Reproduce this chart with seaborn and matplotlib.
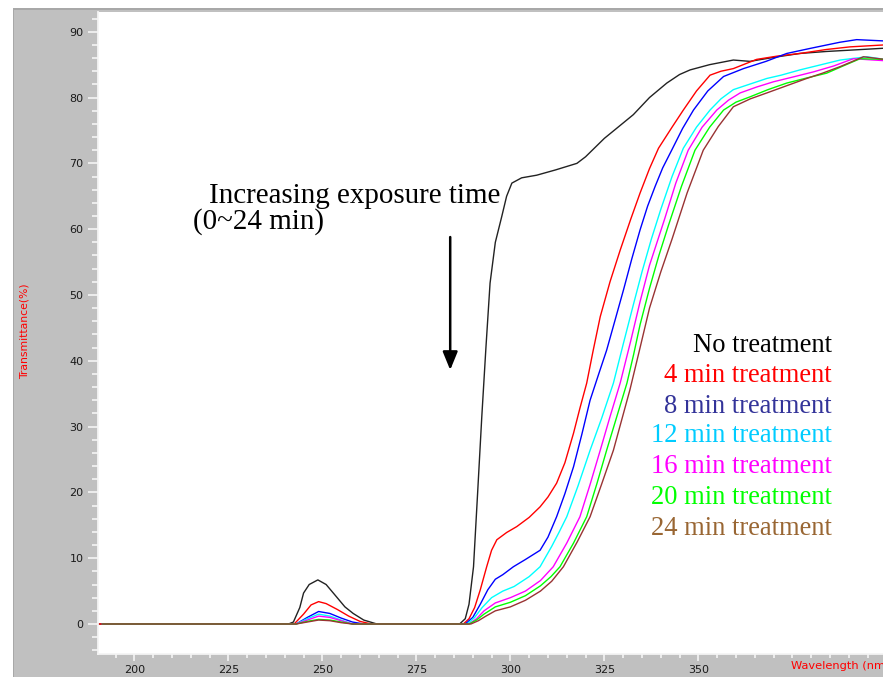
import matplotlib
matplotlib.use("Agg")
import matplotlib.pyplot as plt
from matplotlib.patches import Rectangle
from matplotlib.ticker import MultipleLocator
import numpy as np
import pandas as pd
import seaborn as sns

# ---- Spectra: wavelength (nm) / transmittance (%) ----
no_wl = [190.2, 241, 242.3, 244, 245, 246.5, 248.8, 251, 253.8, 256, 258.2, 261, 264.5,
         286.5, 288, 289, 290.2, 291.3, 292.4, 293.5, 294.6, 296, 297.7, 299, 300.4, 303,
         307, 312, 317.7, 320, 322.5, 325, 328, 332.7, 337, 341.6, 345, 347.8, 353, 359.3,
         363.7, 370, 377, 384, 390.3, 399.5]
no_t = [0, 0, 0.3, 2.5, 4.7, 6.0, 6.7, 6.0, 4.1, 2.6, 1.6, 0.6, 0,
        0, 0.8, 3.0, 8.7, 20, 31.5, 42, 51.8, 58, 61.9, 65, 67.0, 67.8,
        68.2, 69, 70.0, 71.0, 72.4, 73.8, 75.2, 77.4, 80, 82.2, 83.5, 84.2, 85, 85.7,
        85.5, 86.1, 86.7, 87, 87.2, 87.5]

m4_wl = [190.2, 242.5, 245, 247, 249, 251, 254, 257, 260, 263,
         287.5, 289, 290.5, 292, 293.7, 295, 296.4, 299, 301.7, 305, 307.9, 310, 312.3,
         314.5, 316.8, 318.5, 320.3, 322, 323.9, 326.5, 329.2, 332, 334.5, 337, 339.4,
         343, 346, 349.5, 353.1, 356, 359.3, 365.5, 371, 377, 384, 390.3, 399.5]
m4_t = [0, 0, 1.5, 2.9, 3.4, 3.1, 2.2, 1.2, 0.4, 0,
        0, 0.8, 2.5, 5.2, 8.7, 11.2, 12.8, 13.9, 14.8, 16.2, 17.8, 19.3, 21.4,
        24.5, 29.0, 32.8, 36.6, 41.5, 46.7, 52, 56.8, 61.5, 65.5, 69.2, 72.3,
        75.5, 78.1, 81, 83.4, 84, 84.4, 85.8, 86.3, 86.7, 87.3, 87.7, 88]

m8_wl = [191.5, 243, 246, 249, 252, 255, 258, 261,
         288, 290, 292, 294, 296, 298, 300.8, 304, 307.9, 310, 312.3, 314.5, 316.8, 319,
         321.2, 323.5, 325.6, 328, 330.1, 332.3, 334.5, 336.5, 338.5, 340.5, 342.9, 345.8,
         348.7, 352.5, 356.7, 362, 368, 373.5, 380, 387.6, 392.1, 399.5]
m8_t = [0, 0, 1.0, 1.9, 1.6, 0.9, 0.3, 0,
        0, 1, 3, 5.2, 6.8, 7.5, 8.7, 9.8, 11.2, 13.2, 16.3, 19.8, 23.9, 28.8,
        34, 38, 41.6, 46.5, 50.8, 55.5, 59.9, 63.5, 66.5, 69.3, 72, 75.3,
        78.1, 81, 83.2, 84.4, 85.5, 86.7, 87.5, 88.4, 88.8, 88.6]

m12_wl = [191.5, 243, 246, 249, 252, 255, 258,
          288.5, 290.5, 292.5, 295, 298, 301, 305, 307.9, 311, 313, 315, 318, 321.2,
          324.3, 327.4, 330, 332.7, 335, 337.5, 340, 343, 346, 349.5, 353.1, 356, 359.3,
          364, 368.2, 372, 377, 382, 387.7, 394.8, 399.5]
m12_t = [0, 0, 0.8, 1.5, 1.2, 0.6, 0,
         0, 1, 2.5, 4, 5, 5.7, 7.2, 8.7, 11.8, 14, 16.3, 21, 26.4,
         31.3, 36.6, 42.5, 48.5, 53.5, 58.5, 63, 68, 72.3, 75.5, 78.1, 79.8, 81.2,
         82.1, 82.9, 83.4, 84.2, 84.9, 85.7, 86.2, 85.8]

m16_wl = [191.5, 243, 246, 249, 252, 255, 258,
          289, 291, 293, 296, 300, 304, 308, 311.4, 315, 318.5, 321.2, 323.9, 326.5,
          329.2, 332, 334.5, 337, 341, 344, 347.3, 351, 354.9, 358, 361.1, 365.5, 370,
          375, 380.6, 386, 391.2, 399.5]
m16_t = [0, 0, 0.6, 1.2, 1.0, 0.5, 0,
         0, 0.8, 2, 3.2, 4.0, 5, 6.6, 8.7, 12.3, 16.3, 21.2, 26.4, 31.5,
         36.6, 43, 49, 54.5, 61.5, 67, 72, 75.5, 78.1, 79.6, 80.7, 81.6, 82.4,
         83.1, 83.9, 84.8, 85.9, 85.6]

m20_wl = [191.5, 243, 246, 249, 252, 255, 258,
          289, 291, 293, 296, 300, 304, 308, 310.8, 313.2, 316.8, 320.3, 323, 325.6,
          328.3, 331, 332.8, 334.5, 337, 339.5, 342, 345.5, 349.1, 353, 356.7, 360,
          363.7, 368.5, 373.5, 379, 384.1, 388.5, 393, 399.5]
m20_t = [0, 0, 0.4, 0.7, 0.6, 0.3, 0,
         0, 0.6, 1.5, 2.6, 3.3, 4.3, 5.8, 7.2, 8.7, 12.3, 16.3, 21.3, 26.4,
         31.5, 36.6, 41, 45.5, 51, 56, 60.5, 66.5, 72, 75.5, 78.1, 79.3,
         80.1, 81.2, 82.2, 83, 83.7, 84.8, 85.9, 85.8]

m24_wl = [191.5, 243, 246, 249, 252, 255, 258,
          289.5, 291.5, 293.5, 296, 300, 304, 308, 311, 314.1, 317.8, 321.2, 324.3,
          327.4, 329.6, 331.8, 334.5, 337, 340, 343, 347, 351.3, 355.3, 359.3, 363.8,
          368.2, 373.5, 378.8, 383, 387.7, 393.9, 399.5]
m24_t = [0, 0, 0.3, 0.6, 0.5, 0.2, 0,
         0, 0.5, 1.2, 2.0, 2.6, 3.6, 5, 6.5, 8.7, 12.5, 16.3, 21.3,
         26.4, 31, 35.6, 42, 48, 53.5, 58.5, 65.5, 72, 75.6, 78.6, 79.8,
         80.7, 81.8, 82.9, 83.7, 84.7, 86.2, 85.8]

labels = ["No treatment", "4 min treatment", "8 min treatment", "12 min treatment",
          "16 min treatment", "20 min treatment", "24 min treatment"]
line_colors = ["#222222", "#ff0000", "#0000ff", "#00ffff", "#ff00ff", "#00ff00", "#993333"]
text_colors = ["#000000", "#ff0000", "#333399", "#00ccff", "#ff00ff", "#00ff00", "#996633"]

series = [(no_wl, no_t), (m4_wl, m4_t), (m8_wl, m8_t), (m12_wl, m12_t),
          (m16_wl, m16_t), (m20_wl, m20_t), (m24_wl, m24_t)]

frames = []
for name, (wl, t) in zip(labels, series):
    frames.append(pd.DataFrame({"Wavelength": wl, "Transmittance": t, "Sample": name}))
df = pd.concat(frames, ignore_index=True)

# ---- Figure ----
sns.set_style("white")
W, H = 883, 677
fig = plt.figure(figsize=(W / 100, H / 100), dpi=100, facecolor="white")

# grey instrument panel behind the plot
panel_kw = dict(transform=fig.transFigure, edgecolor="none", zorder=-10)
fig.patches.append(Rectangle((14 / W, 0), 1 - 14 / W, 1 - 9 / H,
                             facecolor="#c0c0c0", **panel_kw))
fig.patches.append(Rectangle((12.5 / W, 0), 1.5 / W, 1 - 7.5 / H,
                             facecolor="#a8a8a8", **panel_kw))
fig.patches.append(Rectangle((12.5 / W, 1 - 9.5 / H), 1, 2 / H,
                             facecolor="#a8a8a8", **panel_kw))

ax = fig.add_axes([97.5 / W, 23 / H, (W - 97.5) / W, (654 - 12) / H])
ax.set_zorder(1)
ax.set_facecolor("white")

sns.lineplot(data=df, x="Wavelength", y="Transmittance", hue="Sample",
             hue_order=labels, palette=dict(zip(labels, line_colors)),
             estimator=None, sort=False, legend=False, linewidth=1.0, ax=ax)

ax.set_xlim(190.2, 399.1)
ax.set_ylim(-4.56, 93.0)

for side in ["top", "right"]:
    ax.spines[side].set_visible(False)
for side in ["left", "bottom"]:
    ax.spines[side].set_color("#f4f4f4")
    ax.spines[side].set_linewidth(1.3)

ax.xaxis.set_minor_locator(MultipleLocator(5))
ax.yaxis.set_minor_locator(MultipleLocator(2))
ax.set_xticks([200, 225, 250, 275, 300, 325, 350])
ax.set_yticks(np.arange(0, 91, 10))

ax.tick_params(axis="both", which="both", direction="out", color="#f4f4f4", width=1.2,
               labelcolor="#1a1a1a", labelsize=8, bottom=True, left=True)
ax.tick_params(axis="y", which="major", length=7, pad=3)
ax.tick_params(axis="y", which="minor", length=4)
ax.tick_params(axis="x", which="major", length=5, pad=3)
ax.tick_params(axis="x", which="minor", length=3)
for lab in ax.get_xticklabels() + ax.get_yticklabels():
    lab.set_family("DejaVu Sans")

ax.set_xlabel("")
ax.set_ylabel("")
fig.text(25 / W, 1 - 331 / H, "Transmittance(%)", rotation=90, color="#ff0000",
         family="DejaVu Sans", size=7.8, ha="center", va="center")
# axis title sits at the right end of the scale, running into the window edge
fig.text(791 / W, 1 - 669 / H, "Wavelength (nm)", color="#ff0000",
         family="DejaVu Sans", size=8.2, ha="left", va="baseline")

# annotation
ax.text(219.9, 64.0, "Increasing exposure time", family="Liberation Serif", size=20.9,
        ha="left", va="baseline", color="black", zorder=5)
ax.text(215.6, 60.0, "(0~24 min)", family="Liberation Serif", size=20.9,
        ha="left", va="baseline", color="black", zorder=5)
ax.annotate("", xy=(284.0, 38.6), xytext=(284.0, 58.8),
            arrowprops=dict(arrowstyle="-|>,head_length=1.1,head_width=0.45",
                            color="black", lw=1.8, shrinkA=0, shrinkB=0))

# sample labels
label_y = [41.4, 36.7, 32.1, 27.6, 22.9, 18.2, 13.5]
for name, col, yy in zip(labels, text_colors, label_y):
    ax.text(385.5, yy, name, family="Liberation Serif", size=19.1, color=col,
            ha="right", va="baseline", zorder=5)

fig.savefig("out.png", dpi=100, facecolor="white")
